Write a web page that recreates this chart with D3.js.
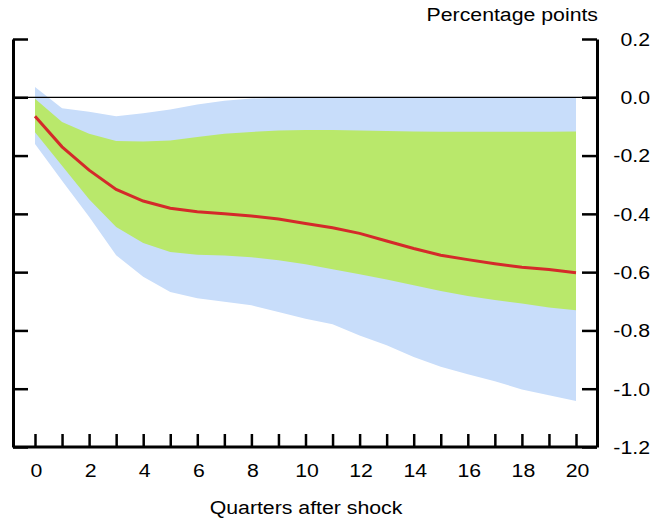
<!DOCTYPE html>
<html>
<head>
<meta charset="utf-8">
<script src="https://cdn.jsdelivr.net/npm/d3@7.9.0/dist/d3.min.js"></script>
<style>
  body { margin: 0; background: #fff; }
  svg text { font-family: "Liberation Sans", Arial, sans-serif; fill: #000; }
</style>
</head>
<body>
<svg id="chart" width="670" height="523"></svg>
<script>
const quarters = d3.range(0, 21);
const median = [-0.065, -0.17, -0.25, -0.316, -0.356, -0.381, -0.393, -0.40, -0.407, -0.418, -0.433,
  -0.448, -0.467, -0.493, -0.519, -0.542, -0.557, -0.571, -0.583, -0.591, -0.602];
const innerUpper = [-0.005, -0.085, -0.125, -0.15, -0.152, -0.148, -0.136, -0.125, -0.119, -0.114, -0.112,
  -0.112, -0.114, -0.116, -0.117, -0.118, -0.118, -0.118, -0.118, -0.118, -0.117];
const innerLower = [-0.12, -0.235, -0.35, -0.445, -0.50, -0.531, -0.54, -0.543, -0.549, -0.559, -0.573,
  -0.59, -0.607, -0.625, -0.645, -0.665, -0.682, -0.696, -0.708, -0.721, -0.731];
const outerUpper = [0.035, -0.038, -0.05, -0.065, -0.055, -0.042, -0.025, -0.012, -0.004, -0.002, -0.001,
  -0.001, -0.001, -0.001, -0.001, -0.001, -0.001, -0.001, -0.001, -0.001, -0.001];
const outerLower = [-0.16, -0.286, -0.41, -0.542, -0.616, -0.668, -0.69, -0.702, -0.714, -0.737, -0.76,
  -0.779, -0.817, -0.851, -0.891, -0.925, -0.95, -0.974, -1.003, -1.022, -1.042];
const yTicks = [0.2, 0.0, -0.2, -0.4, -0.6, -0.8, -1.0, -1.2];
const xLabels = [0, 2, 4, 6, 8, 10, 12, 14, 16, 18, 20];

const plotLeft = 13, plotRight = 597, plotTop = 39, plotBottom = 447;
const stretch = 'scale(1.12,1)';
const svg = d3.select('#chart');

const x = d3.scaleLinear().domain([0, 20]).range([35, 576]);
const y = d3.scaleLinear().domain([0.2, -1.2]).range([plotTop, plotBottom]);

const area = (lo, hi) => d3.area()
  .x((d, i) => x(quarters[i]))
  .y0((d, i) => y(lo[i]))
  .y1((d, i) => y(hi[i]));

svg.append('path').datum(quarters).attr('d', area(outerLower, outerUpper)).attr('fill', '#c8ddfa');
svg.append('path').datum(quarters).attr('d', area(innerLower, innerUpper)).attr('fill', '#b9e86b');

// zero line
svg.append('line')
  .attr('x1', plotLeft).attr('x2', plotRight)
  .attr('y1', y(0)).attr('y2', y(0))
  .attr('stroke', '#000').attr('stroke-width', 1.2);

svg.append('path').datum(median)
  .attr('d', d3.line().x((d, i) => x(quarters[i])).y((d) => y(d)))
  .attr('fill', 'none').attr('stroke', '#d42a2a').attr('stroke-width', 3);

// left axis, ticks inward, no labels
const gl = svg.append('g').attr('transform', `translate(${plotLeft},0)`)
  .call(d3.axisRight(y).tickValues(yTicks).tickSize(15).tickFormat('').tickSizeOuter(0));
// right axis, ticks inward
const gr = svg.append('g').attr('transform', `translate(${plotRight},0)`)
  .call(d3.axisLeft(y).tickValues(yTicks).tickSize(15).tickFormat('').tickSizeOuter(0));
// bottom axis, ticks upward
const gb = svg.append('g').attr('transform', `translate(0,${plotBottom})`)
  .call(d3.axisTop(x).tickValues(quarters).tickSize(13).tickFormat('').tickSizeOuter(0));
gb.select('.domain').attr('d', `M${plotLeft},0H${plotRight}`);

[gl, gr, gb].forEach((g) => {
  g.selectAll('line').attr('stroke', '#000').attr('stroke-width', 2.5);
  g.select('.domain').attr('stroke', '#000').attr('stroke-width', 3);
});

// right labels (text in the original is a bit wide, so stretch it)
svg.append('g').selectAll('text').data(yTicks).join('text')
  .attr('transform', (d) => `translate(650,${y(d)}) ${stretch}`)
  .attr('dy', '0.36em')
  .attr('text-anchor', 'end').attr('font-size', 19)
  .text((d) => d3.format('.1f')(d).replace('−', '-'));

// bottom labels
svg.append('g').selectAll('text').data(xLabels).join('text')
  .attr('transform', (d) => `translate(${x(d) + 1.5},470) ${stretch}`)
  .attr('dy', '0.36em')
  .attr('text-anchor', 'middle').attr('font-size', 19)
  .text((d) => d);

svg.append('text').attr('transform', `translate(598,21) ${stretch}`).attr('text-anchor', 'end')
  .attr('font-size', 19).text('Percentage points');
svg.append('text').attr('transform', `translate(306,514) ${stretch}`).attr('text-anchor', 'middle')
  .attr('font-size', 19).text('Quarters after shock');
</script>
</body>
</html>
